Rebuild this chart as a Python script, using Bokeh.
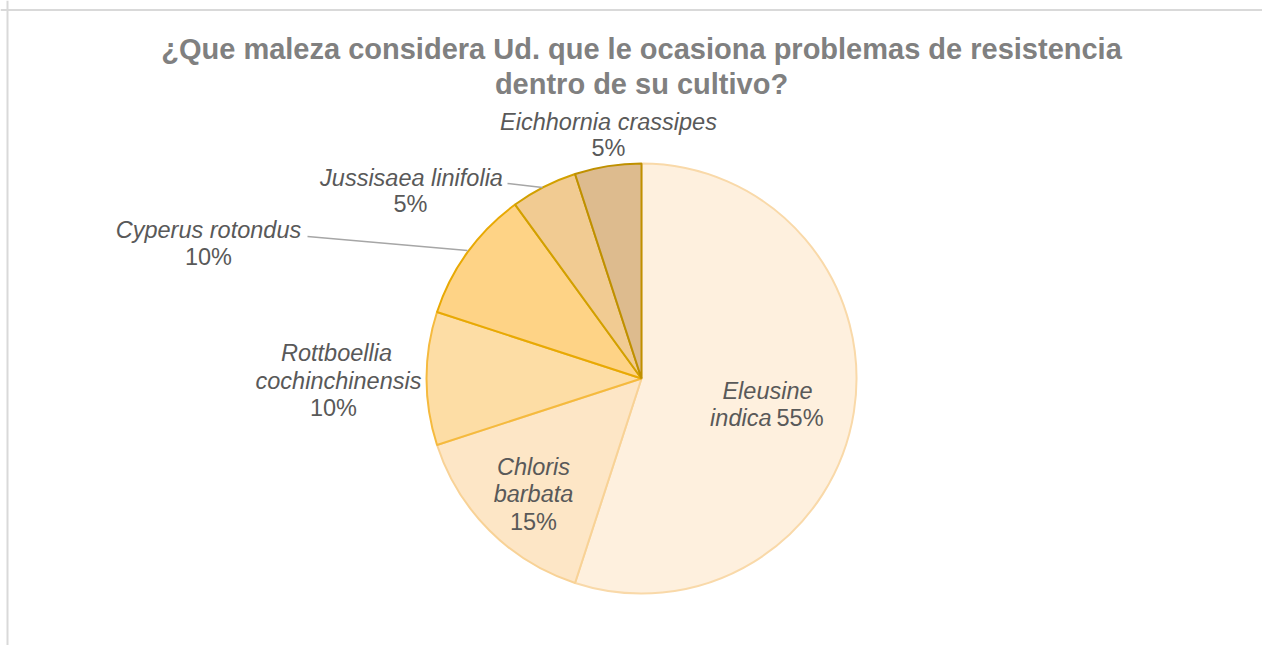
import numpy as np
from bokeh.plotting import figure
from bokeh.models import Range1d, Span
from bokeh.core.properties import value
from bokeh.embed import file_html
from bokeh.resources import INLINE

# ---- data ----
species = ["Eleusine indica", "Chloris barbata", "Rottboellia cochinchinensis",
           "Cyperus rotondus", "Jussisaea linifolia", "Eichhornia crassipes"]
percent = [55, 15, 10, 10, 5, 5]
title_lines = ["¿Que maleza considera Ud. que le ocasiona problemas de resistencia",
               "dentro de su cultivo?"]

# ---- styles ----
fills = ["#FEF0DE", "#FDE6C6", "#FDDDA5", "#FED386", "#F1CB92", "#DDBB8E"]
borders = ["#F9D9A9", "#F8D296", "#F5BA3E", "#E8A904", "#D2A000", "#BF9000"]
LABEL_COLOR = "#595959"
TITLE_COLOR = "#808080"
FONT = "Liberation Sans"
LABEL_SIZE = "23.5px"
TITLE_SIZE = "29px"

W, H = 1262, 645
p = figure(width=W, height=H, x_range=Range1d(0, W), y_range=Range1d(0, H),
           output_backend="svg", toolbar_location=None, min_border=0)
p.axis.visible = False
p.grid.visible = False
p.outline_line_color = None
p.background_fill_color = "white"
p.border_fill_color = "white"


def X(sx):
    return sx


def Y(sy):
    return H - sy


# chart frame (left and top edges visible)
p.add_layout(Span(location=X(7), dimension="height", line_color="#D9D9D9", line_width=2))
p.add_layout(Span(location=Y(9.5), dimension="width", line_color="#D9D9D9", line_width=2))

# ---- pie ----
cx, cy, R = X(641), Y(378), 215
frac = np.array(percent, dtype=float) / sum(percent)
ends = np.cumsum(frac)
starts = ends - frac
start_angle = np.pi / 2 - starts * 2 * np.pi
end_angle = np.pi / 2 - ends * 2 * np.pi
for i in range(len(species)):
    p.wedge(x=cx, y=cy, radius=R, start_angle=start_angle[i], end_angle=end_angle[i],
            direction="clock", fill_color=fills[i], line_color=borders[i], line_width=2)

# ---- leader lines (layout) ----
leaders = {4: [(507, 183), (542, 187)], 3: [(307, 236), (467, 250)]}
for k, pts in leaders.items():
    p.line([X(a) for a, b in pts], [Y(b) for a, b in pts], line_color="#A6A6A6", line_width=1.5)


def txt(s, sx, sy, style, align="center", size=LABEL_SIZE, color=LABEL_COLOR):
    p.text(x=[X(sx)], y=[Y(sy)], text=[s], text_font=value(FONT), text_font_size=size,
           text_font_style=style, text_color=color, text_align=align, text_baseline="middle")


pct = [f"{v}%" for v in percent]

# Eleusine indica
w0 = species[0].split()
txt(w0[0], 767, 390, "italic")
txt(w0[1], 771, 417, "italic", align="right")
txt(pct[0], 776, 417, "normal", align="left")
# Chloris barbata
w1 = species[1].split()
txt(w1[0], 533, 466, "italic")
txt(w1[1], 533, 493, "italic")
txt(pct[1], 533, 521, "normal")
# Rottboellia cochinchinensis
w2 = species[2].split()
txt(w2[0], 336, 352, "italic")
txt(w2[1], 338, 380, "italic")
txt(pct[2], 333, 407, "normal")
# Cyperus rotondus
txt(species[3], 208, 229, "italic")
txt(pct[3], 208, 256, "normal")
# Jussisaea linifolia
txt(species[4], 411, 177, "italic")
txt(pct[4], 410, 203, "normal")
# Eichhornia crassipes
txt(species[5], 608, 121, "italic")
txt(pct[5], 608, 147, "normal")

# ---- title ----
txt(title_lines[0], 641, 48, "bold", size=TITLE_SIZE, color=TITLE_COLOR)
txt(title_lines[1], 641, 83, "bold", size=TITLE_SIZE, color=TITLE_COLOR)

open("out.html", "w").write(file_html(p, INLINE))
